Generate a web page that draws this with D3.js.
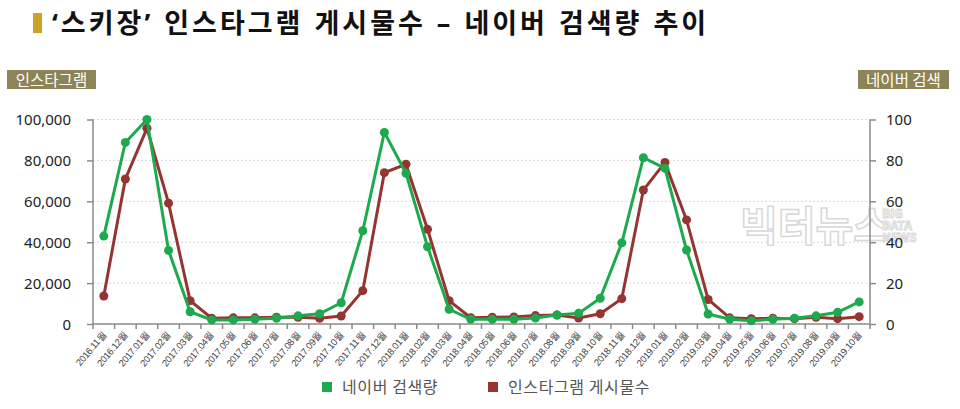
<!DOCTYPE html>
<html><head><meta charset="utf-8">
<script src="https://cdn.jsdelivr.net/npm/d3@7"></script>
<style>
body{margin:0;background:#fff;}
svg{display:block;font-family:"Noto Sans CJK KR","Noto Sans",sans-serif;}
</style></head>
<body><svg id="c" width="960" height="409"></svg>
<script>
const months = ["2016.11월","2016.12월","2017.01월","2017.02월","2017.03월","2017.04월","2017.05월","2017.06월","2017.07월","2017.08월","2017.09월","2017.10월","2017.11월","2017.12월","2018.01월","2018.02월","2018.03월","2018.04월","2018.05월","2018.06월","2018.07월","2018.08월","2018.09월","2018.10월","2018.11월","2018.12월","2019.01월","2019.02월","2019.03월","2019.04월","2019.05월","2019.06월","2019.07월","2019.08월","2019.09월","2019.10월"];
const naver = [43,88.8,100,36,6,2,2,2.3,2.8,4,5,10.4,45.6,93.7,73.7,37.8,7.2,2.3,2.3,2.3,2.9,4.4,5.2,12.6,39.7,81.3,76.1,36.2,4.9,2.3,1.6,2.3,2.8,4,5.7,10.8];
const insta = [13700,70900,95700,59100,11400,2800,3000,3000,3300,3300,2800,3900,16300,74000,78100,46300,11400,3100,3300,3400,4100,4400,2900,5000,12400,65500,79000,50900,12000,3000,2600,2800,2600,3300,2600,3600];
const leftTicks = [0,20000,40000,60000,80000,100000];
const rightTicks = [0,20,40,60,80,100];
const title = "‘스키장’ 인스타그램 게시물수 – 네이버 검색량 추이";
const leftLabel = "인스타그램", rightLabel = "네이버 검색";
const legendItems = [{name:"네이버 검색량",color:"#1daa4f"},{name:"인스타그램 게시물수",color:"#953532"}];

const svg = d3.select("#c");
const L=93, R=870, T=119.5, B=324;
const x = d3.scaleBand().domain(months).range([L,R]);
const yL = d3.scaleLinear().domain([0,100000]).range([B,T]);
const yR = d3.scaleLinear().domain([0,100]).range([B,T]);
const green="#1daa4f", red="#953532", axisCol="#8a8a8a";

// title
svg.append("rect").attr("x",33).attr("y",13).attr("width",9).attr("height",20).attr("fill","#c9a227");
svg.append("text").attr("x",52).attr("y",33).attr("font-size",27).attr("font-weight","bold")
  .attr("font-family","'Noto Sans','Noto Sans CJK KR',sans-serif")
  .attr("letter-spacing",3).attr("word-spacing",1).attr("fill","#111").text(title);

// axis label boxes
svg.append("rect").attr("x",7).attr("y",70).attr("width",89).attr("height",19).attr("fill","#8c8456");
svg.append("text").attr("x",51.5).attr("y",85.5).attr("text-anchor","middle").attr("font-size",15.5).attr("fill","#fff").text(leftLabel);
svg.append("rect").attr("x",858).attr("y",70).attr("width",91).attr("height",19).attr("fill","#8c8456");
svg.append("text").attr("x",903.5).attr("y",85.5).attr("text-anchor","middle").attr("font-size",15.5).attr("fill","#fff").text(rightLabel);

// grid
svg.append("g").selectAll("line").data(rightTicks.filter(d=>d>0)).join("line")
  .attr("x1",L).attr("x2",R).attr("y1",d=>yR(d)).attr("y2",d=>yR(d))
  .attr("stroke","#d8d8d8").attr("stroke-dasharray","2,2").attr("stroke-width",1);

// watermark
const wm = svg.append("g").attr("opacity",0.9);
wm.append("text").attr("x",740).attr("y",241).attr("font-size",41).attr("font-weight","bold")
  .attr("fill","#fff").attr("stroke","#d4d4d4").attr("stroke-width",1.5).text("빅터뉴스");
["BIG","DATA","NEWS"].forEach((t,i)=>wm.append("text").attr("x",882).attr("y",218+i*12).attr("font-size",12).attr("font-weight","bold")
  .attr("fill","#fff").attr("stroke","#d4d4d4").attr("stroke-width",1).text(t));

// left axis
const gl = svg.append("g").attr("transform",`translate(${L},0)`)
  .call(d3.axisLeft(yL).tickValues(leftTicks).tickSize(6).tickPadding(16).tickFormat(d3.format(",")));
gl.select(".domain").attr("stroke",axisCol).attr("stroke-width",1.5).attr("d",`M-0,${T}V${B}`);
gl.selectAll(".tick line").attr("stroke",axisCol).attr("stroke-width",1.5);
gl.selectAll(".tick text").attr("font-size",15).attr("fill","#222").attr("font-family","'Noto Sans',sans-serif").attr("dy","0.35em");

// right axis
const gr = svg.append("g").attr("transform",`translate(${R},0)`)
  .call(d3.axisRight(yR).tickValues(rightTicks).tickSize(6).tickPadding(10));
gr.select(".domain").attr("stroke",axisCol).attr("stroke-width",1.5).attr("d",`M0,${T}V${B}`);
gr.selectAll(".tick line").attr("stroke",axisCol).attr("stroke-width",1.5);
gr.selectAll(".tick text").attr("font-size",15).attr("fill","#222").attr("font-family","'Noto Sans',sans-serif").attr("dy","0.35em");

// bottom axis
const gb = svg.append("g").attr("transform",`translate(0,${B})`)
  .call(d3.axisBottom(x).tickSize(0).tickPadding(0));
gb.select(".domain").attr("stroke",axisCol).attr("stroke-width",1.5).attr("d",`M${L},0H${R}`);
gb.selectAll(".tick text").attr("font-size",9.5).attr("fill","#444")
  .attr("text-anchor","end").attr("dy",0).attr("letter-spacing",-0.3)
  .attr("transform","translate(3,11) rotate(-50)");
// band boundary ticks
gb.append("g").selectAll("line").data(months.concat([null])).join("line")
  .attr("x1",(d,i)=>L+i*x.step()).attr("x2",(d,i)=>L+i*x.step())
  .attr("y1",0).attr("y2",5).attr("stroke",axisCol).attr("stroke-width",1.5);

// lines
const cx = d=>x(d)+x.bandwidth()/2;
const lineI = d3.line().x((d,i)=>cx(months[i])).y(d=>yL(d));
const lineN = d3.line().x((d,i)=>cx(months[i])).y(d=>yR(d));
svg.append("path").datum(insta).attr("d",lineI).attr("fill","none").attr("stroke",red).attr("stroke-width",3);
svg.append("g").selectAll("circle").data(insta).join("circle")
  .attr("cx",(d,i)=>cx(months[i])).attr("cy",d=>yL(d)).attr("r",4.5).attr("fill",red);
svg.append("path").datum(naver).attr("d",lineN).attr("fill","none").attr("stroke",green).attr("stroke-width",3);
svg.append("g").selectAll("circle").data(naver).join("circle")
  .attr("cx",(d,i)=>cx(months[i])).attr("cy",d=>yR(d)).attr("r",4.5).attr("fill",green);

// legend
const lg = svg.append("g");
const lx=[322,488];
legendItems.forEach((it,i)=>{
  lg.append("rect").attr("x",lx[i]).attr("y",382).attr("width",10).attr("height",10).attr("fill",it.color);
  lg.append("text").attr("x",lx[i]+20).attr("y",393).attr("font-size",16).attr("letter-spacing",0.6).attr("fill","#555").text(it.name);
});
</script></body></html>
